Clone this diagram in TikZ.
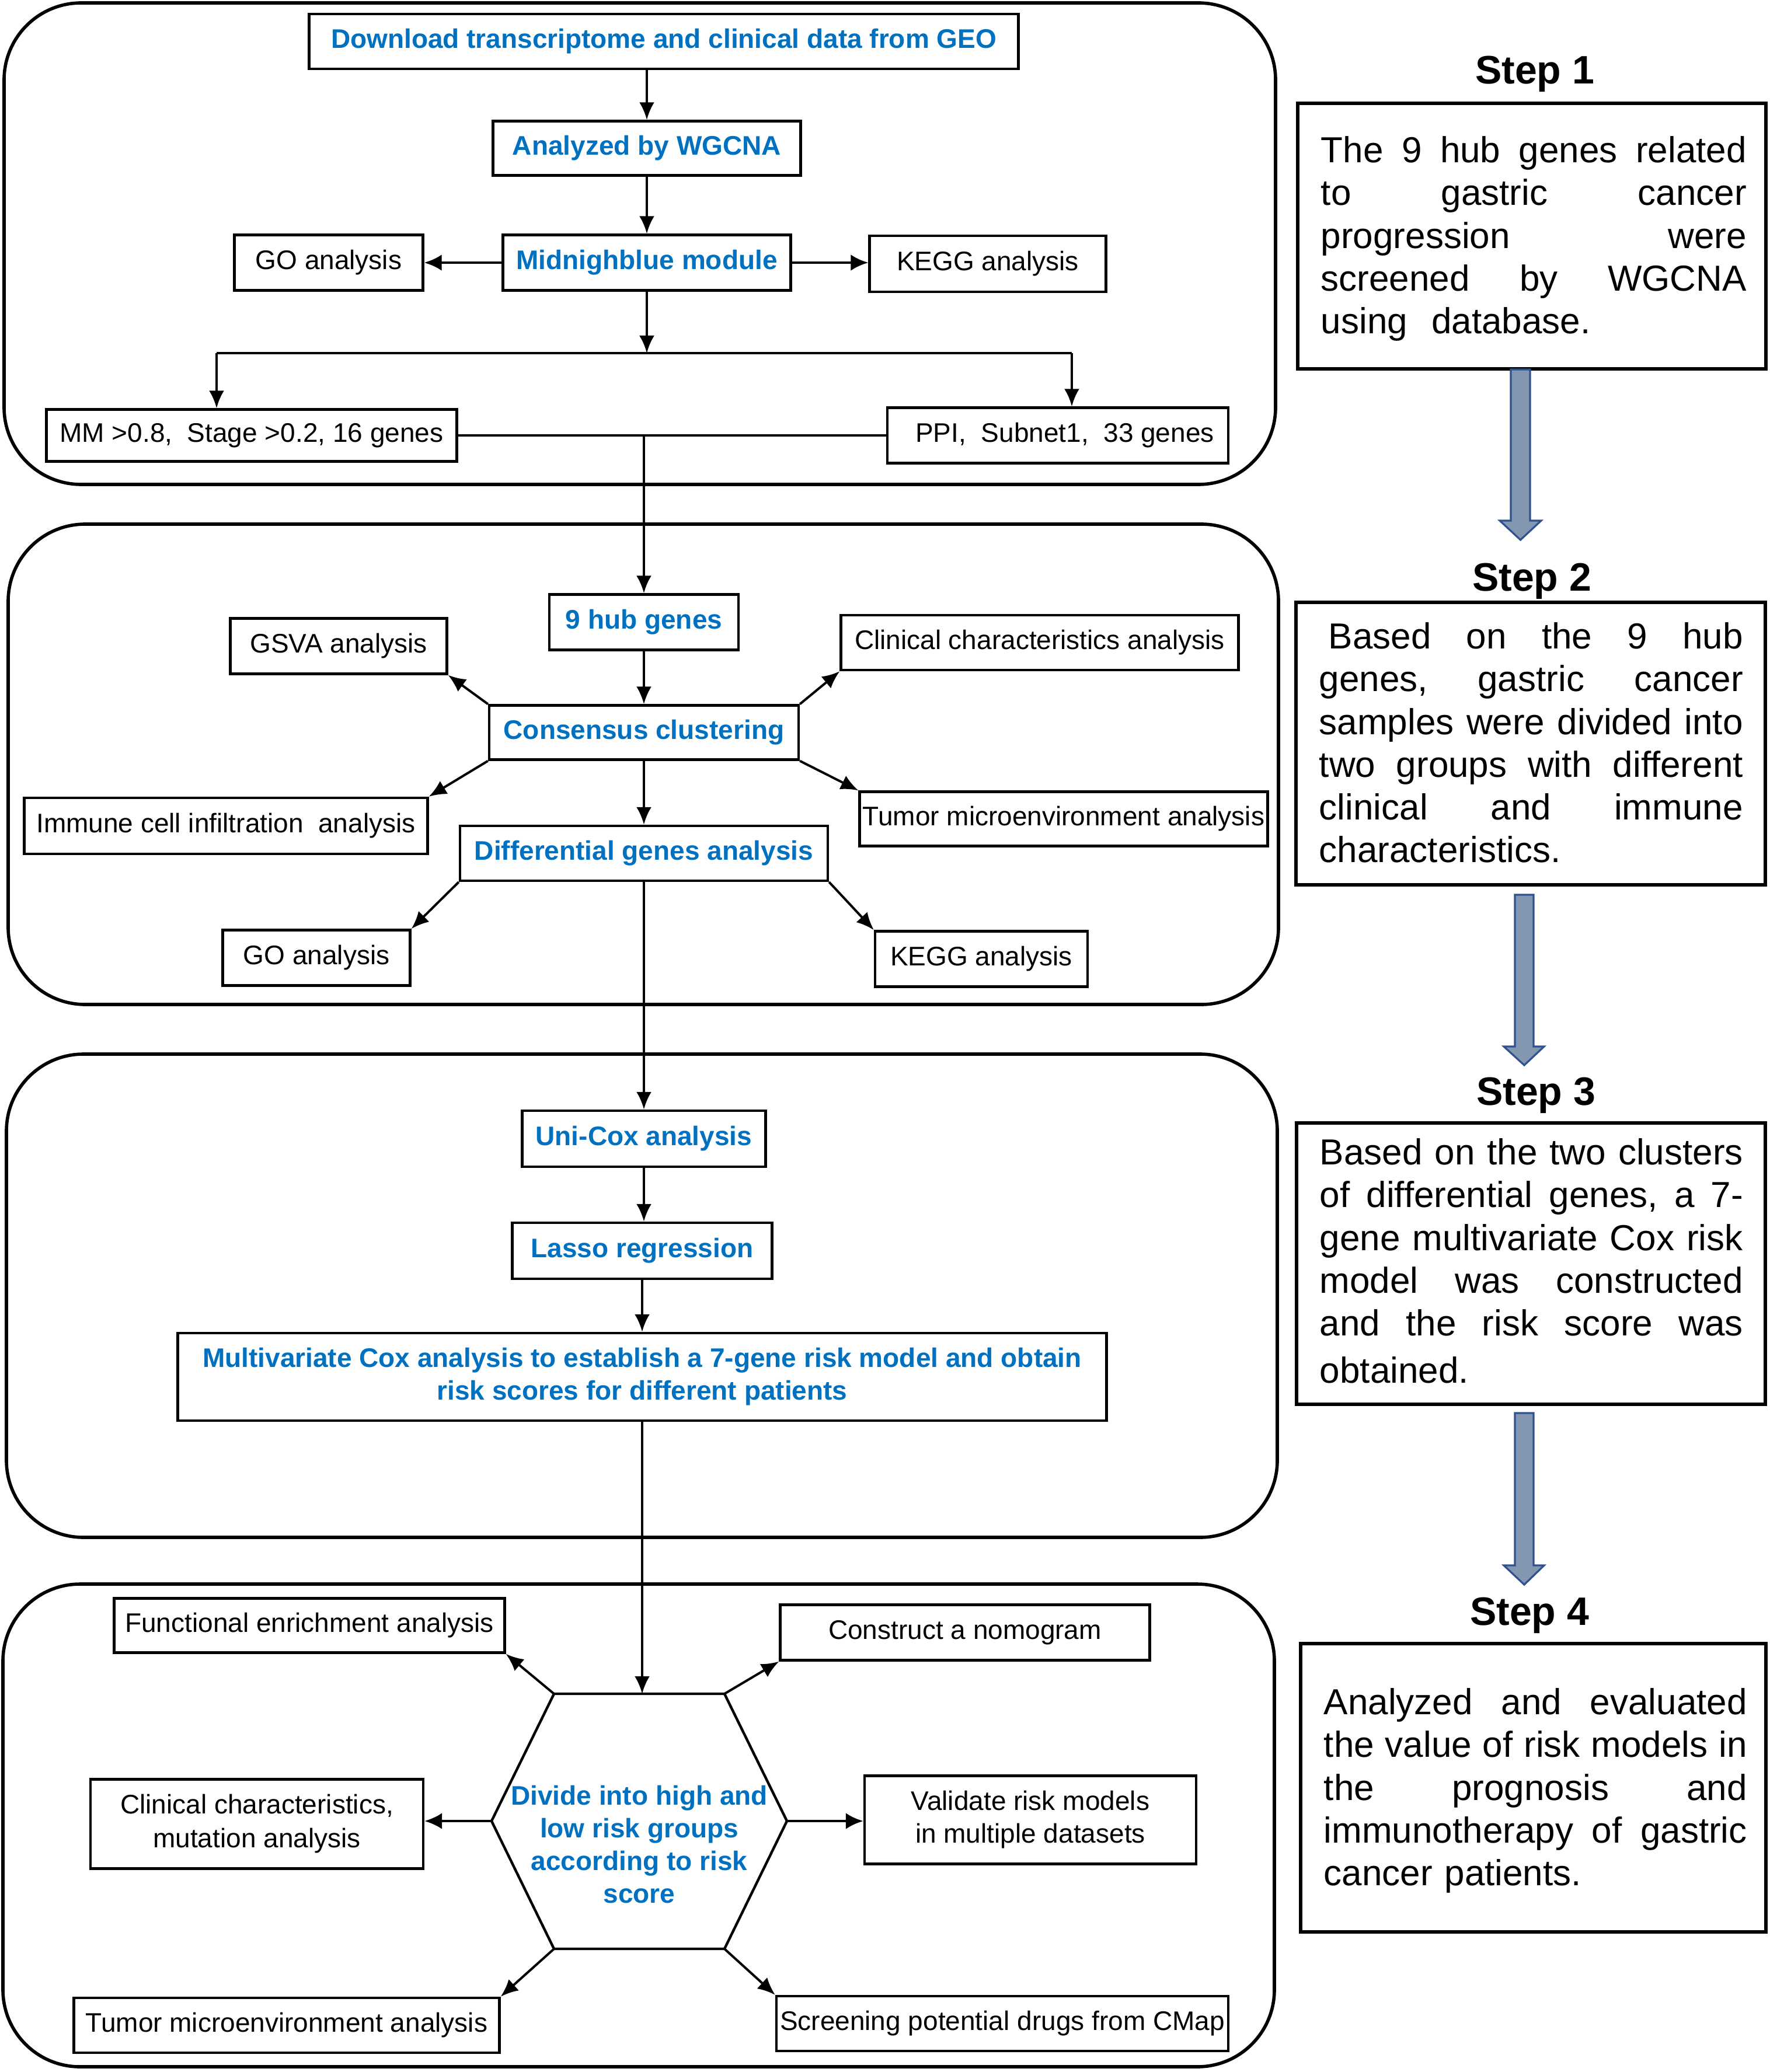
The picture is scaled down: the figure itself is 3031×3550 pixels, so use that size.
\documentclass[tikz,border=0pt]{standalone}
\usepackage{fontspec}
\setmainfont{Liberation Sans}
\usetikzlibrary{arrows.meta}
\definecolor{txtblue}{HTML}{0070C0}
\definecolor{arrfill}{HTML}{8497B0}
\definecolor{arredge}{HTML}{2F528F}
\tikzset{
  box/.style={draw,line width=1.1pt,inner sep=0pt,align=center,font=\fontsize{11.5}{14}\selectfont},
  bbox/.style={box,text=txtblue,font=\fontsize{11.5}{14}\selectfont\bfseries},
  panel/.style={line width=1.4pt,rounded corners=33pt},
  conn/.style={line width=1pt},
  arr/.style={conn,-{Latex[length=7.5pt,width=6.5pt]}},
  arrh/.style={line width=1.15pt,-{Latex[length=7.5pt,width=7pt]}},
  stepbox/.style={draw,line width=1.5pt,inner sep=0pt},
  steptitle/.style={anchor=base,inner sep=0pt,font=\fontsize{17}{20}\selectfont\bfseries},
  steptext/.style={anchor=north west,inner sep=0pt,align=left,font=\fontsize{15.5}{18.3}\selectfont},
  bigarrow/.style={fill=arrfill,draw=arredge,line width=0.8pt,line join=miter},
  hexline/.style={line width=1.1pt,line join=miter},
  hextext/.style={inner sep=0pt,align=center,text=txtblue,font=\fontsize{11.5}{14}\selectfont\bfseries}
}
\begin{document}
\begin{tikzpicture}[x=0.25pt,y=-0.25pt]
\useasboundingbox (0,0) rectangle (3031,3550);

% ---------- panels ----------
\draw[panel] (7,5) rectangle (2185,830);
\draw[panel] (14,898) rectangle (2190,1721);
\draw[panel] (11,1806) rectangle (2188,2634);
\draw[panel] (5,2714) rectangle (2183,3541);

% ---------- panel 1 ----------
\node[bbox,minimum width=303.75pt,minimum height=23.5pt] (dl) at (1137,71) {Download transcriptome and clinical data from GEO};
\node[bbox,minimum width=131.75pt,minimum height=23.25pt] (an) at (1108,254) {Analyzed by WGCNA};
\node[bbox,minimum width=123.25pt,minimum height=23.75pt] (mb) at (1108,450) {Midnighblue module};
\node[box,minimum width=80.75pt,minimum height=23.75pt] (go1) at (563,450) {GO analysis};
\node[box,minimum width=101.25pt,minimum height=24pt] (kegg1) at (1692,452) {KEGG analysis};
\node[box,minimum width=175.75pt,minimum height=22.25pt] (mm) at (431,746) {MM >0.8,\ \ Stage >0.2, 16 genes};
\node[box,minimum width=146pt,minimum height=23.75pt] (ppi) at (1812,746) {\hspace*{6pt}PPI,\ \ Subnet1,\ \ 33 genes};
\coordinate (spl) at (371,605);
\coordinate (spr) at (1836,605);

\draw[arr] (dl.south -| an.north) -- (an.north);
\draw[arr] (an.south) -- (an.south |- mb.north);
\draw[arrh] (mb.west) -- (mb.west -| go1.east);
\draw[arrh] (mb.east) -- (mb.east -| kegg1.west);
\draw[arr] (mb.south) -- (mb.south |- spl);
\draw[conn] (spl) -- (spr);
\draw[arr] (spl) -- (spl |- mm.north);
\draw[arr] (spr) -- (spr |- ppi.north);
\draw[conn] (mm.east) -- (ppi.west);

% ---------- panel 2 ----------
\node[bbox,minimum width=81pt,minimum height=23.75pt] (hub) at (1103,1066) {9 hub genes};
\node[box,minimum width=92.75pt,minimum height=23.75pt] (gsva) at (580,1107) {GSVA analysis};
\node[box,minimum width=170.25pt,minimum height=23.5pt] (clin) at (1781,1101) {Clinical characteristics analysis};
\node[bbox,minimum width=132.5pt,minimum height=23.25pt] (cons) at (1103,1255) {Consensus clustering};
\node[box,minimum width=172.75pt,minimum height=24pt] (imm) at (387,1415) {Immune cell infiltration\ \ analysis};
\node[box,minimum width=174.75pt,minimum height=23.25pt] (tme) at (1822,1403) {Tumor microenvironment analysis};
\node[bbox,minimum width=157.5pt,minimum height=23.5pt] (diff) at (1103,1462) {Differential genes analysis};
\node[box,minimum width=80.25pt,minimum height=23.75pt] (go2) at (542,1641) {GO analysis};
\node[box,minimum width=91pt,minimum height=23.75pt] (kegg2) at (1681,1643) {KEGG analysis};

\coordinate (jn) at (hub.north |- mm.east);
\draw[arr] (jn) -- (hub.north);
\draw[arr] (hub.south) -- (hub.south |- cons.north);
\draw[arr] (cons.north west) -- (gsva.south east);
\draw[arr] (cons.north east) -- (clin.south west);
\draw[arr] (cons.south west) -- (imm.north east);
\draw[arr] (cons.south east) -- (tme.north west);
\draw[arr] (cons.south) -- (cons.south |- diff.north);
\draw[arr] (diff.south west) -- (go2.north east);
\draw[arr] (diff.south east) -- (kegg2.north west);

% ---------- panel 3 ----------
\node[bbox,minimum width=104.25pt,minimum height=24pt] (uni) at (1103,1951) {Uni-Cox analysis};
\node[bbox,minimum width=111.25pt,minimum height=24pt] (lasso) at (1100,2143) {Lasso regression};
\node[bbox,minimum width=397.75pt,minimum height=37.5pt] (multi) at (1100,2359) {Multivariate Cox analysis to establish a 7-gene risk model and obtain\\risk scores for different patients};

\draw[arr] (diff.south) -- (diff.south |- uni.north);
\draw[arr] (uni.south) -- (uni.south |- lasso.north);
\draw[arr] (lasso.south) -- (lasso.south |- multi.north);

% ---------- panel 4 ----------
\node[box,minimum width=167.25pt,minimum height=23.25pt] (func) at (530,2785) {Functional enrichment analysis};
\node[box,minimum width=158.25pt,minimum height=23.75pt] (nomo) at (1653,2797) {Construct a nomogram};
\node[box,minimum width=142.5pt,minimum height=38.25pt,font=\fontsize{11.5}{14.5}\selectfont] (clin2) at (440,3125) {Clinical characteristics,\\mutation analysis};
\node[box,minimum width=142pt,minimum height=37.75pt] (valid) at (1765,3118) {Validate risk models\\in multiple datasets};
\node[box,minimum width=182.25pt,minimum height=23.5pt] (tme2) at (491,3470) {Tumor microenvironment analysis};
\node[box,minimum width=193.5pt,minimum height=23.5pt] (cmap) at (1717,3467) {Screening potential drugs from CMap};

\coordinate (ht1) at (949,2902);
\coordinate (ht2) at (1241,2902);
\coordinate (hr) at (1348,3120);
\coordinate (hb2) at (1241,3339);
\coordinate (hb1) at (949,3339);
\coordinate (hl) at (842,3120);
\draw[hexline] (ht1) -- (ht2) -- (hr) -- (hb2) -- (hb1) -- (hl) -- cycle;
\node[hextext] (hex) at (1095,3160) {Divide into high and\\low risk groups\\according to risk\\score};

\draw[arr] (multi.south) -- (multi.south |- ht1);
\draw[arr] (ht1) -- (func.south east);
\draw[arr] (ht2) -- (nomo.south west);
\draw[arrh] (hl) -- (hl -| clin2.east);
\draw[arrh] (hr) -- (hr -| valid.west);
\draw[arr] (hb1) -- (tme2.north east);
\draw[arr] (hb2) -- (cmap.north west);

% ---------- right column ----------
\node[steptitle] (t1) at (2629,144) {Step 1};
\node[stepbox,minimum width=200.5pt,minimum height=113.75pt] (s1) at (2624,404.5) {};
\node[steptext,text width=182.25pt] (s1t) at (2262,233) {%
\makebox[182.25pt][s]{The\hfill 9\hfill hub\hfill genes\hfill related}\\
\makebox[182.25pt][s]{to\hfill gastric\hfill cancer}\\
\makebox[182.25pt][s]{progression\hfill were}\\
\makebox[182.25pt][s]{screened\hfill by\hfill WGCNA}\\
using\ \ database.};

\node[steptitle] (t2) at (2624,1012) {Step 2};
\node[stepbox,minimum width=201pt,minimum height=121pt] (s2) at (2622,1274) {};
\node[steptext,text width=181.5pt] (s2t) at (2259,1066) {%
\makebox[181.5pt][s]{\hspace*{4pt}Based\hfill on\hfill the\hfill 9\hfill hub}\\
\makebox[181.5pt][s]{genes,\hfill gastric\hfill cancer}\\
\makebox[181.5pt][s]{samples\hfill were\hfill divided\hfill into}\\
\makebox[181.5pt][s]{two\hfill groups\hfill with\hfill different}\\
\makebox[181.5pt][s]{clinical\hfill and\hfill immune}\\
characteristics.};

\node[steptitle] (t3) at (2631,1893) {Step 3};
\node[stepbox,minimum width=200.75pt,minimum height=120.5pt] (s3) at (2622.5,2165) {};
\node[steptext,text width=181.25pt] (s3t) at (2260,1950) {%
\makebox[181.25pt][s]{Based\hfill on\hfill the\hfill two\hfill clusters}\\
\makebox[181.25pt][s]{of\hfill differential\hfill genes,\hfill a\hfill 7-}\\
\makebox[181.25pt][s]{gene\hfill multivariate\hfill Cox\hfill risk}\\
\makebox[181.25pt][s]{model\hfill was\hfill constructed}\\
\makebox[181.25pt][s]{and\hfill the\hfill risk\hfill score\hfill was}\\[2pt]
obtained.};

\node[steptitle] (t4) at (2620,2784) {Step 4};
\node[stepbox,minimum width=199.25pt,minimum height=123.5pt] (s4) at (2626.5,3063) {};
\node[steptext,text width=181.25pt] (s4t) at (2267,2892) {%
\makebox[181.25pt][s]{Analyzed\hfill and\hfill evaluated}\\
\makebox[181.25pt][s]{the\hfill value\hfill of\hfill risk\hfill models\hfill in}\\
\makebox[181.25pt][s]{the\hfill prognosis\hfill and}\\
\makebox[181.25pt][s]{immunotherapy\hfill of\hfill gastric}\\
cancer patients.};

% big arrows between steps
\draw[bigarrow] (2588,633) -- (2621,633) -- (2621,892) -- (2640,892) -- (2604.5,925) -- (2569,892) -- (2588,892) -- cycle;
\draw[bigarrow] (2595,1533) -- (2627,1533) -- (2627,1793) -- (2645,1793) -- (2611,1825) -- (2576,1793) -- (2595,1793) -- cycle;
\draw[bigarrow] (2595,2421) -- (2627,2421) -- (2627,2682) -- (2645,2682) -- (2611,2715) -- (2576,2682) -- (2595,2682) -- cycle;
\end{tikzpicture}
\end{document}
